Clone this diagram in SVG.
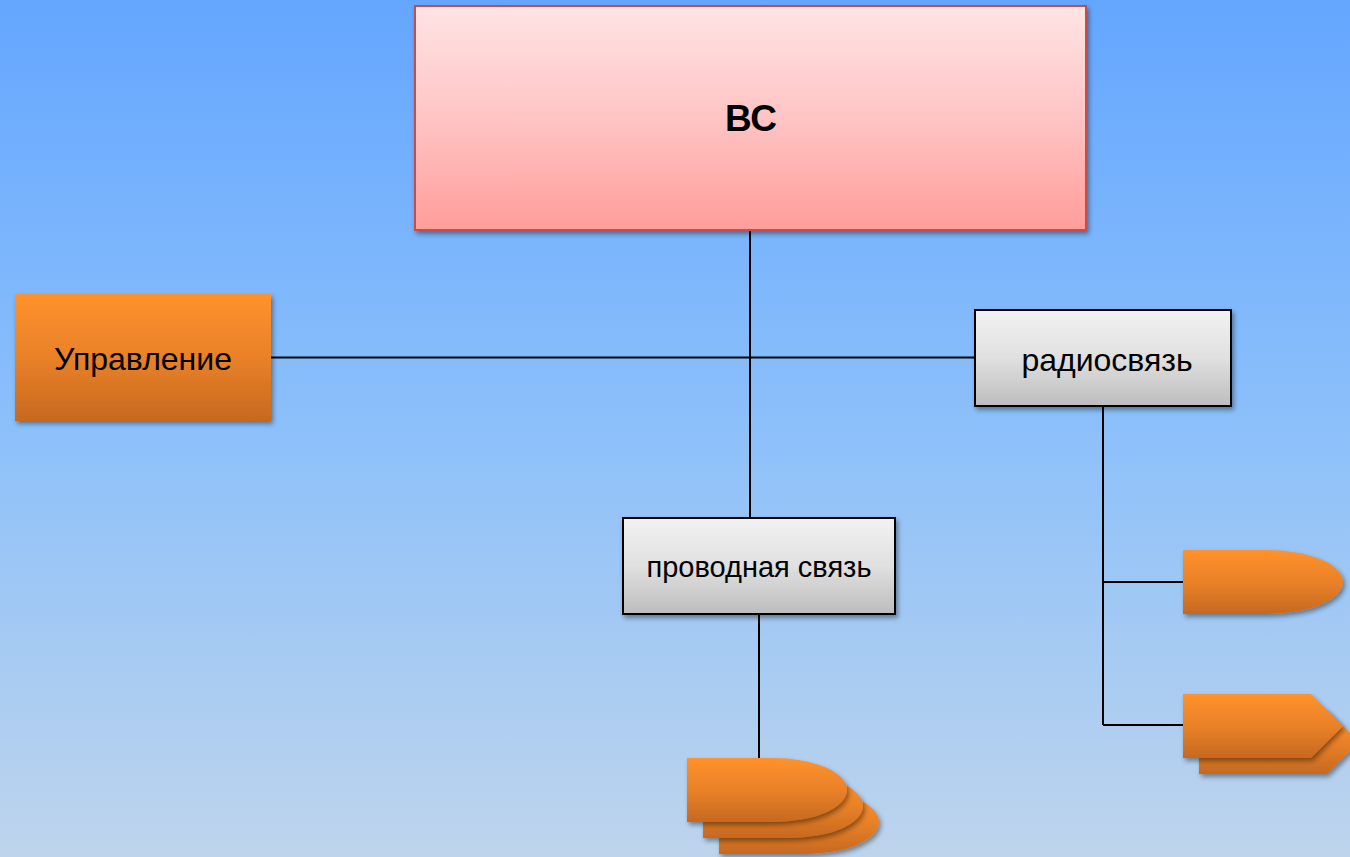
<svg xmlns="http://www.w3.org/2000/svg" width="1350" height="857" viewBox="0 0 1350 857">
<defs>
<linearGradient id="bg" x1="0" y1="0" x2="0" y2="1">
<stop offset="0" stop-color="#64a6ff"/>
<stop offset="0.5" stop-color="#8cc0fa"/>
<stop offset="1" stop-color="#bed4ec"/>
</linearGradient>
<linearGradient id="pink" x1="0" y1="0" x2="0" y2="1">
<stop offset="0" stop-color="#ffe4e4"/>
<stop offset="0.5" stop-color="#ffc4c4"/>
<stop offset="1" stop-color="#ff9d9a"/>
</linearGradient>
<linearGradient id="orange" x1="0" y1="0" x2="0" y2="1">
<stop offset="0" stop-color="#ff922d"/>
<stop offset="0.5" stop-color="#ea8128"/>
<stop offset="1" stop-color="#c6691f"/>
</linearGradient>
<linearGradient id="gray" x1="0" y1="0" x2="0" y2="1">
<stop offset="0" stop-color="#f2f2f2"/>
<stop offset="0.5" stop-color="#e0e0e0"/>
<stop offset="1" stop-color="#bdbdbd"/>
</linearGradient>
<filter id="sh" x="-10%" y="-10%" width="125%" height="135%">
<feDropShadow dx="2" dy="3" stdDeviation="2.5" flood-color="#000" flood-opacity="0.4"/>
</filter>
<path id="delay" d="M0,0 H86 A74,32 0 0 1 86,64 H0 Z"/>
<path id="delayR" d="M0,0 H84 A76,32 0 0 1 84,64 H0 Z"/>
<path id="pent" d="M0,0 H128 L160,32 L128,64 H0 Z"/>
</defs>
<style>
.lbl{font-family:"Liberation Sans",Arial,sans-serif;fill:#000;text-anchor:middle}
.conn{stroke:#000;stroke-width:2;fill:none}
.or{fill:url(#orange);filter:url(#sh)}
.gr{fill:url(#gray);stroke:#000;stroke-width:2;filter:url(#sh)}
</style>
<rect width="1350" height="857" fill="url(#bg)"/>
<g id="connectors">
<line class="conn" x1="750" y1="230" x2="750" y2="518"/>
<line class="conn" x1="271" y1="357.5" x2="975" y2="357.5"/>
<line class="conn" x1="1103" y1="406" x2="1103" y2="725"/>
<line class="conn" x1="1103" y1="582" x2="1184" y2="582"/>
<line class="conn" x1="1103" y1="725" x2="1184" y2="725"/>
<line class="conn" x1="759" y1="614" x2="759" y2="759"/>
</g>
<g id="node-bc">
<rect x="415" y="6" width="671" height="224" fill="url(#pink)" stroke="#c0504d" stroke-width="2" filter="url(#sh)"/>
<text class="lbl" x="751" y="131" font-size="37" font-weight="bold">ВС</text>
</g>
<g id="node-upravlenie">
<rect class="or" x="15" y="294" width="256" height="127"/>
<text class="lbl" x="143" y="370" font-size="32">Управление</text>
</g>
<g id="node-radio">
<rect class="gr" x="975" y="310" width="256" height="96"/>
<text class="lbl" x="1107" y="371" font-size="32">радиосвязь</text>
</g>
<g id="node-provod">
<rect class="gr" x="623" y="518" width="272" height="96"/>
<text class="lbl" x="759" y="577" font-size="29">проводная связь</text>
</g>
<g id="node-provod-sub">
<use href="#delay" x="719" y="790" class="or"/>
<use href="#delay" x="703" y="774" class="or"/>
<use href="#delay" x="687" y="758" class="or"/>
</g>
<g id="node-radio-sub1">
<use href="#delayR" x="1183" y="550" class="or"/>
</g>
<g id="node-radio-sub2">
<use href="#pent" x="1199" y="710" class="or"/>
<use href="#pent" x="1183" y="694" class="or"/>
</g>
</svg>
